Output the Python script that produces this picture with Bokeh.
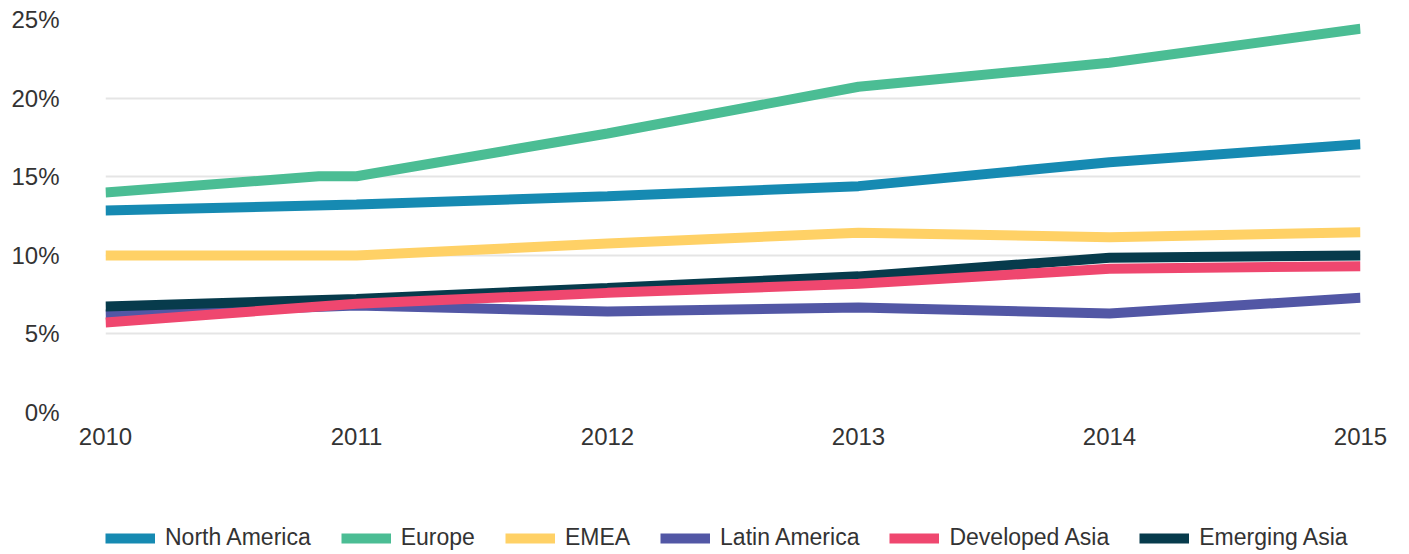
from bokeh.plotting import figure
from bokeh.layouts import column
from bokeh.models import Range1d, FixedTicker, Legend, LegendItem, CustomJSTickFormatter
from bokeh.embed import file_html
from bokeh.resources import INLINE

# ---- data ----
years = [2010, 2011, 2012, 2013, 2014, 2015]
europe_years = [2010, 2010.85, 2011, 2012, 2013, 2014, 2015]

north_america = [12.85, 13.23, 13.76, 14.40, 15.92, 17.07]
europe = [13.99, 15.03, 15.03, 17.75, 20.72, 22.25, 24.41]
emea = [9.99, 9.99, 10.75, 11.44, 11.15, 11.47]
latin_america = [6.23, 6.81, 6.42, 6.68, 6.30, 7.30]
developed_asia = [5.73, 6.92, 7.61, 8.19, 9.14, 9.31]
emerging_asia = [6.74, 7.22, 7.92, 8.66, 9.84, 9.99]

y_ticks = [0, 5, 10, 15, 20, 25]

series_names = ["North America", "Europe", "EMEA", "Latin America", "Developed Asia", "Emerging Asia"]
colors = {
    "North America": "#168AB2",
    "Europe": "#4BBD94",
    "EMEA": "#FFD166",
    "Latin America": "#5257A5",
    "Developed Asia": "#EF476F",
    "Emerging Asia": "#073B4C",
}
series_x = {
    "North America": years, "Europe": europe_years, "EMEA": years,
    "Latin America": years, "Developed Asia": years, "Emerging Asia": years,
}
series_y = {
    "North America": north_america, "Europe": europe, "EMEA": emea,
    "Latin America": latin_america, "Developed Asia": developed_asia,
    "Emerging Asia": emerging_asia,
}

FONT = "Liberation Sans"
TEXT = "#333333"

# ---- main chart ----
p = figure(
    output_backend="svg", toolbar_location=None,
    width=1390, height=502,
    min_border_left=105, min_border_right=30, min_border_top=19, min_border_bottom=90,
    x_range=Range1d(2010, 2015), y_range=Range1d(0, 25),
)
p.outline_line_color = None
p.background_fill_color = "white"
p.border_fill_color = "white"

# draw order: pink on top of dark, both on top of purple
draw_order = ["North America", "Europe", "EMEA", "Latin America", "Emerging Asia", "Developed Asia"]
for name in draw_order:
    p.line(series_x[name], series_y[name], line_color=colors[name], line_width=10)

p.xaxis.ticker = FixedTicker(ticks=years)
p.xaxis.formatter = CustomJSTickFormatter(code="return String(tick);")
p.yaxis.ticker = FixedTicker(ticks=y_ticks)
p.yaxis.formatter = CustomJSTickFormatter(code="return tick + '%';")
for ax in (p.xaxis[0], p.yaxis[0]):
    ax.axis_line_color = None
    ax.major_tick_line_color = None
    ax.minor_tick_line_color = None
    ax.major_label_text_font = FONT
    ax.major_label_text_font_size = "24px"
    ax.major_label_text_color = TEXT
p.xaxis.major_label_standoff = 9
p.yaxis.major_label_standoff = 40

p.xgrid.grid_line_color = None
p.ygrid.grid_line_color = "#E5E5E5"
p.ygrid.grid_line_width = 2

# ---- legend strip (its lines lie outside its range, only the legend shows) ----
lg = figure(
    output_backend="svg", toolbar_location=None,
    width=1390, height=55,
    min_border_left=0, min_border_right=0, min_border_top=0, min_border_bottom=0,
    x_range=Range1d(0, 1), y_range=Range1d(0, 1),
    x_axis_location=None, y_axis_location=None,
)
lg.outline_line_color = None
lg.xgrid.grid_line_color = None
lg.ygrid.grid_line_color = None
lg.background_fill_color = "white"
lg.border_fill_color = "white"

items = []
for name in series_names:
    r = lg.line(series_x[name], series_y[name], line_color=colors[name], line_width=10)
    items.append(LegendItem(label=name, renderers=[r]))

legend = Legend(
    items=items,
    orientation="horizontal",
    location=(0, 6),
    padding=0, margin=0, spacing=30,
    glyph_width=50, glyph_height=20, label_height=20, label_standoff=10,
    label_text_font=FONT, label_text_font_size="23px", label_text_color=TEXT,
    border_line_color=None, background_fill_alpha=0,
)
lg.add_layout(legend, "center")

open("out.html", "w").write(file_html(column(p, lg, spacing=0), INLINE))
